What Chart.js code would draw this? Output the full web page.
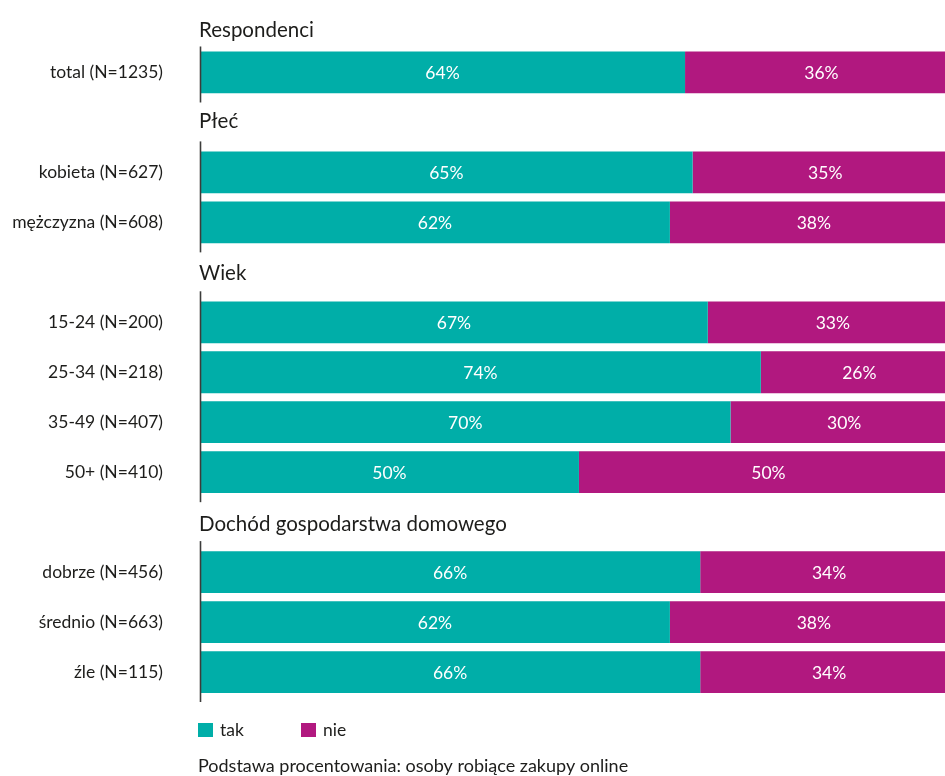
<!DOCTYPE html>
<html>
<head>
<meta charset="utf-8">
<script src="https://cdn.jsdelivr.net/npm/chart.js@4/dist/chart.umd.min.js"></script>
<style>
  html, body { margin: 0; padding: 0; background: #ffffff; overflow: hidden; }
  #wrap { position: relative; width: 945px; height: 776px; }
</style>
</head>
<body>
<div id="wrap"><canvas id="c" width="945" height="776"></canvas></div>
<script>
// ---- data ----
const categories = [
  'total (N=1235)',
  '',
  'kobieta (N=627)',
  'mężczyzna (N=608)',
  '',
  '15-24 (N=200)',
  '25-34 (N=218)',
  '35-49 (N=407)',
  '50+ (N=410)',
  '',
  'dobrze (N=456)',
  'średnio (N=663)',
  'źle (N=115)'
];
const takValues = [64, null, 65, 62, null, 67, 74, 70, 50, null, 66, 62, 66];
const nieValues = [36, null, 35, 38, null, 33, 26, 30, 50, null, 34, 38, 34];
const groupNames = ['Respondenci', 'Płeć', 'Wiek', 'Dochód gospodarstwa domowego'];
const seriesNames = ['tak', 'nie'];
const footnote = 'Podstawa procentowania: osoby robiące zakupy online';

// ---- layout / style (not data) ----
const FONT = 'Lato, "Open Sans", sans-serif';
const TEXT = '#1d1d1b';
const TEAL = '#00AEA8';
const MAGENTA = '#B1187F';
// header row index (-1 = above first row) and group row ranges
const groupHeaderRows = [-1, 1, 4, 9];
const headerBaselineDy = [14, 6, 8, 9];
const groupRanges = [[0, 0], [2, 3], [5, 8], [10, 12]];

const decorPlugin = {
  id: 'decor',
  afterDatasetsDraw(chart) {
    const ctx = chart.ctx;
    const y = chart.scales.y;
    const area = chart.chartArea;
    const band = y.getPixelForValue(1) - y.getPixelForValue(0);
    ctx.save();
    // value labels
    ctx.fillStyle = '#ffffff';
    ctx.font = '17.5px ' + FONT;
    ctx.textAlign = 'center';
    ctx.textBaseline = 'middle';
    chart.data.datasets.forEach((ds, di) => {
      const meta = chart.getDatasetMeta(di);
      meta.data.forEach((el, i) => {
        const v = ds.data[i];
        if (v === null || v === undefined) return;
        ctx.fillText(v + '%', (el.x + el.base) / 2, el.y + 1);
      });
    });
    // axis line segments per group
    ctx.strokeStyle = '#3c3c3b';
    ctx.lineWidth = 1.6;
    groupRanges.forEach((r, gi) => {
      const top = y.getPixelForValue(r[0]) - 21 - (gi === 0 ? 5 : 10);
      const bot = y.getPixelForValue(r[1]) + 21 + 9;
      ctx.beginPath();
      ctx.moveTo(area.left + 0.5, top);
      ctx.lineTo(area.left + 0.5, bot);
      ctx.stroke();
    });
    // group headers
    ctx.fillStyle = TEXT;
    ctx.font = '20.5px ' + FONT;
    ctx.textAlign = 'left';
    ctx.textBaseline = 'alphabetic';
    groupNames.forEach((name, gi) => {
      const row = groupHeaderRows[gi];
      const cy = y.getPixelForValue(0) + row * band;
      ctx.fillText(name, area.left - 1, cy + headerBaselineDy[gi]);
    });
    // legend
    ctx.font = '17.5px ' + FONT;
    ctx.textBaseline = 'middle';
    const legY = area.bottom + 33;
    const legX = [198, 301];
    chart.data.datasets.forEach((ds, di) => {
      ctx.fillStyle = ds.backgroundColor;
      ctx.fillRect(legX[di], legY - 7, 15, 14);
      ctx.fillStyle = TEXT;
      ctx.fillText(ds.label, legX[di] + 22, legY);
    });
    // footnote
    ctx.font = '18px ' + FONT;
    ctx.textBaseline = 'alphabetic';
    ctx.fillText(footnote, 198, area.bottom + 75);
    ctx.restore();
  }
};

new Chart(document.getElementById('c'), {
  type: 'bar',
  data: {
    labels: categories,
    datasets: [
      { label: seriesNames[0], data: takValues, backgroundColor: TEAL, borderWidth: 0 },
      { label: seriesNames[1], data: nieValues, backgroundColor: MAGENTA, borderWidth: 0 }
    ]
  },
  options: {
    indexAxis: 'y',
    responsive: false,
    animation: false,
    devicePixelRatio: 1,
    layout: { padding: { top: 44, bottom: 79, left: 0, right: 0 } },
    datasets: { bar: { barPercentage: 0.836, categoryPercentage: 1.0 } },
    plugins: { legend: { display: false }, tooltip: { enabled: false } },
    scales: {
      x: { stacked: true, display: false, min: 0, max: 98.3 },
      y: {
        stacked: true,
        grid: { display: false, drawTicks: false },
        border: { display: false },
        ticks: { color: TEXT, font: { family: FONT, size: 17.5 }, padding: 37 },
        afterFit(scale) { scale.width = 200; }
      }
    }
  },
  plugins: [decorPlugin]
});
</script>
</body>
</html>
